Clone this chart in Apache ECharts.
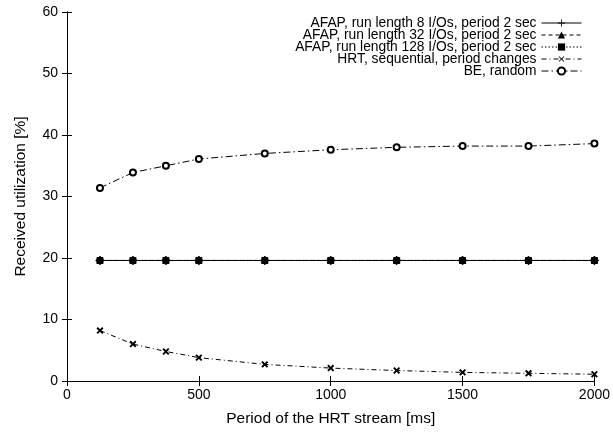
<!DOCTYPE html>
<html>
<head>
<meta charset="utf-8">
<script src="https://cdn.jsdelivr.net/npm/echarts@6/dist/echarts.min.js"></script>
<style>html,body{margin:0;padding:0;background:#fff}#c{width:613px;height:432px}</style>
</head>
<body>
<div id="c"></div>
<script>
var periods = [125, 250, 375, 500, 750, 1000, 1250, 1500, 1750, 2000];
var afap8 = [19.6, 19.6, 19.6, 19.6, 19.6, 19.6, 19.6, 19.6, 19.6, 19.6];
var afap32 = [19.6, 19.6, 19.6, 19.6, 19.6, 19.6, 19.6, 19.6, 19.6, 19.6];
var afap128 = [19.6, 19.6, 19.6, 19.6, 19.6, 19.6, 19.6, 19.6, 19.6, 19.6];
var hrt = [8.2, 6.0, 4.8, 3.8, 2.7, 2.1, 1.7, 1.4, 1.25, 1.1];
var be = [31.4, 33.9, 35.0, 36.1, 37.0, 37.6, 38.0, 38.2, 38.2, 38.6];
var seriesNames = [
  'AFAP, run length 8 I/Os, period 2 sec',
  'AFAP, run length 32 I/Os, period 2 sec',
  'AFAP, run length 128 I/Os, period 2 sec',
  'HRT, sequential, period changes',
  'BE, random'
];
var xTicks = [0, 500, 1000, 1500, 2000];
var yTicks = [0, 10, 20, 30, 40, 50, 60];

var plusPath = 'path://M4.4,0H5.6V4.4H10V5.6H5.6V10H4.4V5.6H0V4.4H4.4Z';
function pairs(arr){ return periods.map(function(p,i){ return [p, arr[i]]; }); }
var font = 'Liberation Sans, Arial, Helvetica, sans-serif';

function mk(name, data, dash, symbol, size, opts) {
  var s = {
    name: name, type: 'line', data: pairs(data),
    symbol: symbol, symbolSize: size,
    lineStyle: { color: '#000', width: 1, type: dash },
    itemStyle: { color: '#000', borderColor: '#000' },
    emphasis: { disabled: true },
    animation: false
  };
  if (opts) for (var k in opts) s[k] = opts[k];
  return s;
}

var chart = echarts.init(document.getElementById('c'), null, {renderer: 'canvas'});
var axisCommon = {
  axisLine: { show: true, lineStyle: { color: '#000', width: 1 } },
  axisTick: { show: true, inside: true, length: 5, lineStyle: { color: '#000' } },
  splitLine: { show: false }
};
chart.setOption({
  backgroundColor: '#fff',
  animation: false,
  grid: { left: 67, right: 12, top: 12, bottom: 48 },
  legend: {
    orient: 'vertical', right: 31, top: 16, align: 'right',
    itemWidth: 40, itemHeight: 9, itemGap: -2, padding: 0,
    lineStyle: { width: 1 },
    textStyle: { fontFamily: font, fontSize: 13.8, color: '#000', lineHeight: 14 },
    data: seriesNames
  },
  xAxis: [
    Object.assign({}, axisCommon, {
      type: 'value', min: 0, max: 2000, interval: 500,
      name: 'Period of the HRT stream [ms]', nameLocation: 'middle', nameGap: 30,
      nameTextStyle: { fontFamily: font, fontSize: 15.5, color: '#000' },
      axisLabel: { fontFamily: font, fontSize: 14, color: '#000', margin: 7,
        formatter: function(v){ return String(v); } }
    }),
    Object.assign({}, axisCommon, {
      type: 'value', min: 0, max: 2000, interval: 500, position: 'top',
      axisLabel: { show: false }
    })
  ],
  yAxis: [
    Object.assign({}, axisCommon, {
      type: 'value', min: 0, max: 60, interval: 10,
      name: 'Received utilization [%]', nameLocation: 'middle', nameGap: 38,
      nameTextStyle: { fontFamily: font, fontSize: 15.5, color: '#000' },
      axisLabel: { fontFamily: font, fontSize: 14, color: '#000', margin: 9 }
    }),
    Object.assign({}, axisCommon, {
      type: 'value', min: 0, max: 60, interval: 10, position: 'right',
      axisLabel: { show: false }
    })
  ],
  series: [
    mk(seriesNames[0], afap8, 'solid', plusPath, 8),
    mk(seriesNames[1], afap32, [4, 3], 'triangle', 6),
    mk(seriesNames[2], afap128, [1.5, 2], 'rect', 6),
    mk(seriesNames[3], hrt, [5, 3, 1, 3], plusPath, 7, { symbolRotate: 45 }),
    mk(seriesNames[4], be, [7, 3, 1.5, 3], 'emptyCircle', 6, { itemStyle: { color: '#000', borderColor: '#000', borderWidth: 1.2 } })
  ]
});
</script>
</body>
</html>
